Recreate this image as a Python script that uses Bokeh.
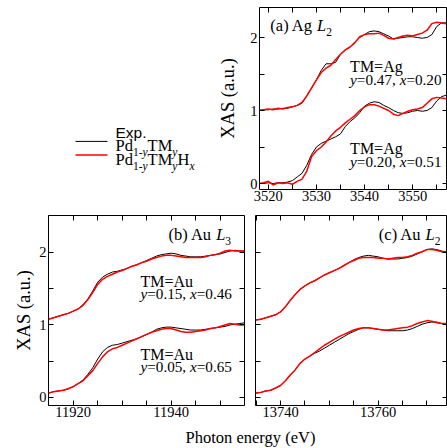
from bokeh.plotting import figure
from bokeh.models import Range1d, FixedTicker, LinearAxis, Label
from bokeh.layouts import column, row
from bokeh.embed import file_html
from bokeh.resources import INLINE

# ---------------- data ----------------
A_E = list(range(3518, 3558))
A_UP_K = [1.00, 1.01, 1.01, 1.02, 1.02, 1.03, 1.03, 1.05, 1.07, 1.10,
          1.20, 1.31, 1.42, 1.55, 1.64, 1.64, 1.66, 1.77, 1.83, 1.87,
          1.94, 2.00, 2.04, 2.08, 2.09, 2.08, 2.05, 2.02, 1.98, 1.99,
          2.00, 2.01, 2.01, 2.00, 1.99, 2.00, 2.04, 2.15, 2.20, 2.20]
A_UP_R = [1.00, 1.01, 1.02, 1.01, 1.03, 1.02, 1.04, 1.05, 1.07, 1.11,
          1.20, 1.31, 1.42, 1.52, 1.58, 1.62, 1.70, 1.77, 1.83, 1.87,
          1.93, 2.01, 2.04, 2.05, 2.05, 2.06, 2.03, 1.99, 1.98, 2.00,
          2.02, 2.03, 2.02, 2.04, 2.06, 2.10, 2.19, 2.21, 2.20, 2.19]
A_LO_K = [0.00, 0.00, 0.01, 0.00, 0.01, 0.01, 0.02, 0.04, 0.09, 0.14,
          0.25, 0.40, 0.50, 0.55, 0.58, 0.61, 0.64, 0.68, 0.78, 0.85,
          0.90, 0.97, 1.06, 1.10, 1.12, 1.11, 1.07, 1.04, 1.00, 0.97,
          0.96, 0.97, 0.99, 1.00, 0.99, 1.00, 1.04, 1.13, 1.19, 1.21]
A_LO_R = [0.00, 0.01, 0.03, -0.02, 0.01, 0.00, 0.01, -0.01, 0.03, 0.06,
          0.17, 0.37, 0.45, 0.50, 0.57, 0.65, 0.72, 0.77, 0.83, 0.88,
          0.93, 1.00, 1.05, 1.08, 1.08, 1.06, 1.03, 1.00, 0.95, 0.93,
          0.96, 0.99, 1.01, 1.02, 1.04, 1.10, 1.16, 1.18, 1.17, 1.16]

B_E = list(range(11915, 11956))
B_UP_R = [1.08, 1.10, 1.12, 1.14, 1.16, 1.19, 1.22, 1.27, 1.35, 1.45,
          1.56, 1.63, 1.67, 1.70, 1.73, 1.75, 1.78, 1.81, 1.83, 1.86,
          1.88, 1.91, 1.93, 1.95, 1.96, 1.96, 1.95, 1.94, 1.93, 1.93,
          1.93, 1.93, 1.94, 1.96, 1.97, 1.99, 2.02, 2.03, 2.02, 2.02,
          2.02]
B_UP_K = [1.08, 1.10, 1.12, 1.14, 1.16, 1.19, 1.22, 1.28, 1.36, 1.47,
          1.59, 1.66, 1.70, 1.73, 1.74, 1.76, 1.78, 1.81, 1.83, 1.86,
          1.89, 1.92, 1.95, 1.97, 1.98, 1.99, 1.98, 1.96, 1.95, 1.94,
          1.94, 1.94, 1.95, 1.96, 1.97, 1.98, 2.00, 2.02, 2.03, 2.02,
          2.02]
B_LO_R = [0.06, 0.08, 0.09, 0.10, 0.12, 0.15, 0.19, 0.23, 0.30, 0.37,
          0.47, 0.56, 0.63, 0.67, 0.69, 0.72, 0.75, 0.78, 0.81, 0.84,
          0.87, 0.90, 0.92, 0.94, 0.95, 0.95, 0.93, 0.91, 0.90, 0.90,
          0.91, 0.92, 0.93, 0.95, 0.96, 0.98, 1.00, 1.02, 1.01, 1.00,
          1.00]
B_LO_K = [0.06, 0.08, 0.09, 0.10, 0.12, 0.15, 0.19, 0.24, 0.32, 0.41,
          0.53, 0.63, 0.69, 0.72, 0.73, 0.75, 0.77, 0.79, 0.81, 0.84,
          0.87, 0.90, 0.94, 0.96, 0.97, 0.97, 0.96, 0.95, 0.94, 0.93,
          0.93, 0.93, 0.94, 0.95, 0.96, 0.97, 0.98, 1.00, 1.01, 1.02,
          1.03]

C_E = list(range(13735, 13775))
C_UP_R = [1.07, 1.08, 1.10, 1.12, 1.14, 1.18, 1.25, 1.34, 1.42, 1.49,
          1.54, 1.58, 1.61, 1.65, 1.69, 1.72, 1.75, 1.78, 1.82, 1.86,
          1.89, 1.92, 1.93, 1.93, 1.93, 1.92, 1.92, 1.91, 1.92, 1.93,
          1.93, 1.94, 1.96, 1.99, 2.01, 2.04, 2.04, 2.03, 2.01, 2.00]
C_UP_K = [1.07, 1.08, 1.10, 1.12, 1.14, 1.18, 1.25, 1.34, 1.42, 1.49,
          1.54, 1.58, 1.61, 1.65, 1.69, 1.72, 1.75, 1.78, 1.82, 1.86,
          1.90, 1.93, 1.95, 1.96, 1.95, 1.94, 1.92, 1.91, 1.91, 1.91,
          1.92, 1.93, 1.95, 1.98, 2.01, 2.04, 2.05, 2.04, 2.02, 2.01]
C_LO_R = [0.06, 0.07, 0.09, 0.10, 0.13, 0.165, 0.23, 0.31, 0.38, 0.47,
          0.53, 0.57, 0.62, 0.67, 0.72, 0.76, 0.80, 0.84, 0.87, 0.90,
          0.93, 0.95, 0.96, 0.96, 0.95, 0.94, 0.93, 0.93, 0.94, 0.95,
          0.96, 0.97, 0.99, 1.02, 1.04, 1.06, 1.05, 1.03, 1.02, 1.02]
C_LO_K = [0.06, 0.07, 0.09, 0.10, 0.13, 0.165, 0.23, 0.31, 0.38, 0.47,
          0.53, 0.57, 0.61, 0.64, 0.68, 0.72, 0.76, 0.80, 0.84, 0.88,
          0.91, 0.94, 0.96, 0.96, 0.95, 0.94, 0.93, 0.92, 0.92, 0.92,
          0.92, 0.93, 0.95, 0.98, 1.01, 1.03, 1.04, 1.04, 1.02, 1.02]

A_XTICKS = [3520, 3525, 3530, 3535, 3540, 3545, 3550, 3555]
A_XLABELS = ["3520", "", "3530", "", "3540", "", "3550", ""]
B_XTICKS = [11915, 11920, 11925, 11930, 11935, 11940, 11945, 11950, 11955]
B_XLABELS = ["", "11920", "", "", "", "11940", "", "", ""]
C_XTICKS = [13735, 13740, 13745, 13750, 13755, 13760, 13765, 13770]
C_XLABELS = ["", "13740", "", "", "", "13760", "", ""]
Y_TICKS = [0, 0.5, 1, 1.5, 2]
Y_LABELS = ["0", "", "1", "", "2"]

SERIF = "Liberation Serif"
SANS = "Liberation Sans"
RED = "#ff0000"

# approximate Times advance widths (em) for run placement
W_R = {'P': .556, 'd': .5, '-': .333, 'T': .611, 'M': .889, 'H': .722, '=': .564,
       'A': .722, 'g': .5, 'u': .5, '(': .333, ')': .333, 'a': .444, 'b': .5,
       'c': .444, ' ': .25, '.': .25, ',': .25, 'L': .611}
W_I = {'y': .444, 'x': .444, 'L': .556}
MID = 0.34  # em-box centre above the baseline


def tw(text, italic, size):
    tab = W_I if italic else W_R
    return sum(tab.get(ch, 0.5) for ch in text) * size


def rich(p, x, y, runs, size=16.5, sub=11.5, drop=4, font=SERIF):
    """Place text runs so that the main baseline sits at (x, y)."""
    off = 0.0
    for text, kind in runs:
        is_sub = kind.startswith("s")
        ital = kind.endswith("i")
        fs = sub if is_sub else size
        yo = MID * fs - (drop if is_sub else 0)
        p.add_layout(Label(x=x, y=y, x_offset=off, y_offset=yo,
                           text=text, text_font=font, text_font_size=f"{fs}px",
                           text_font_style="italic" if ital else "normal",
                           text_color="black", text_baseline="middle",
                           text_align="left"))
        off += tw(text, ital, fs)


def style_axis(ax, ticks, labels, show):
    ax.ticker = FixedTicker(ticks=ticks)
    ax.minor_tick_line_color = None
    ax.major_tick_in = 5
    ax.major_tick_out = 0
    ax.major_tick_line_color = "black"
    ax.major_tick_line_width = 1
    ax.axis_line_color = None
    if show:
        ax.major_label_overrides = {t: l for t, l in zip(ticks, labels)}
        ax.major_label_text_font = SERIF
        ax.major_label_text_font_size = "14.5px"
        ax.major_label_text_color = "black"
    else:
        ax.major_label_overrides = {t: "" for t in ticks}
        ax.major_label_text_font_size = "0px"
        ax.major_label_standoff = 0


def panel(width, height, xr, yr, bl, br, bt, bb, xt, xl, ylab, show_y, ystand):
    p = figure(width=width, height=height, x_range=Range1d(*xr), y_range=Range1d(*yr),
               output_backend="svg", toolbar_location=None,
               min_border_left=bl, min_border_right=br,
               min_border_top=bt, min_border_bottom=bb)
    p.grid.visible = False
    p.outline_line_color = "black"
    p.outline_line_width = 1
    p.outline_line_alpha = 1
    p.background_fill_color = "white"
    p.border_fill_color = "white"
    top = LinearAxis()
    right = LinearAxis()
    p.add_layout(top, "above")
    p.add_layout(right, "right")
    bx = p.below[0]
    ly = p.left[0]
    style_axis(bx, xt, xl, True)
    bx.major_label_standoff = 1
    style_axis(top, xt, xl, False)
    style_axis(ly, Y_TICKS, Y_LABELS, show_y)
    if show_y:
        ly.major_label_standoff = 2
    style_axis(right, Y_TICKS, Y_LABELS, False)
    if ylab:
        ly.axis_label = ylab
        ly.axis_label_text_font = SERIF
        ly.axis_label_text_font_size = "18.5px"
        ly.axis_label_text_font_style = "normal"
        ly.axis_label_text_color = "black"
        ly.axis_label_standoff = ystand
    return p


TM_SIZE = 16
VAL_SIZE = 15.2

# ---------------- panel (a) ----------------
pa = panel(232, 213, (3518.16, 3557.25), (-0.082, 2.411), 41, 0, 7, 24,
           A_XTICKS, A_XLABELS, "XAS (a.u.)", True, 9)
pa.line(A_E, A_UP_K, line_color="black", line_width=1)
pa.line(A_E, A_LO_K, line_color="black", line_width=1)
pa.line(A_E, A_UP_R, line_color=RED, line_width=1.5)
pa.line(A_E, A_LO_R, line_color=RED, line_width=1.5)
rich(pa, 3520.41, 2.082, [("(a) Ag ", "r"), ("L", "i"), ("2", "sr")])
rich(pa, 3537.0, 1.525, [("TM=Ag", "r")], size=TM_SIZE)
rich(pa, 3537.0, 1.35, [("y", "i"), ("=0.47, ", "r"), ("x", "i"), ("=0.20", "r")], size=VAL_SIZE)
rich(pa, 3537.0, 0.41, [("TM=Ag", "r")], size=TM_SIZE)
rich(pa, 3537.0, 0.235, [("y", "i"), ("=0.20, ", "r"), ("x", "i"), ("=0.51", "r")], size=VAL_SIZE)

# ---------------- legend area ----------------
pl = figure(width=215, height=213, x_range=Range1d(0, 215), y_range=Range1d(0, 213),
            output_backend="svg", toolbar_location=None, x_axis_type=None, y_axis_type=None,
            min_border_left=0, min_border_right=0, min_border_top=0, min_border_bottom=0)
pl.grid.visible = False
pl.outline_line_color = None
rich(pl, 115, 60.5, [("Exp.", "r")], size=15.5, font=SANS)
pl.segment(x0=[75], y0=[56.3], x1=[107], y1=[56.3], line_color="black", line_width=1)
pl.segment(x0=[75], y0=[40.3], x1=[107], y1=[40.3], line_color=RED, line_width=1.5)
rich(pl, 115, 44.5, [("Pd", "r"), ("1-", "sr"), ("y", "si"), ("TM", "r"), ("y", "si")])
rich(pl, 115, 28, [("Pd", "r"), ("1-", "sr"), ("y", "si"), ("TM", "r"), ("y", "si"),
                   ("H", "r"), ("x", "si")])

# ---------------- panel (b) ----------------
pb = panel(248, 210, (11914.96, 11954.96), (-0.111, 2.510), 48, 4, 2, 18,
           B_XTICKS, B_XLABELS, "XAS (a.u.)", True, 2)
pb.line(B_E, B_UP_K, line_color="black", line_width=1)
pb.line(B_E, B_LO_K, line_color="black", line_width=1)
pb.line(B_E, B_UP_R, line_color=RED, line_width=1.5)
pb.line(B_E, B_LO_R, line_color=RED, line_width=1.5)
rich(pb, 11939.45, 2.166, [("(b) Au ", "r"), ("L", "i"), ("3", "sr")])
rich(pb, 11933.73, 1.531, [("TM=Au", "r")], size=TM_SIZE)
rich(pb, 11933.73, 1.359, [("y", "i"), ("=0.15, ", "r"), ("x", "i"), ("=0.46", "r")], size=VAL_SIZE)
rich(pb, 11933.73, 0.52, [("TM=Au", "r")], size=TM_SIZE)
rich(pb, 11933.73, 0.352, [("y", "i"), ("=0.05, ", "r"), ("x", "i"), ("=0.65", "r")], size=VAL_SIZE)

# ---------------- panel (c) ----------------
pc = panel(199, 210, (13734.88, 13774.2), (-0.111, 2.510), 7, 0, 2, 18,
           C_XTICKS, C_XLABELS, None, False, 0)
pc.line(C_E, C_UP_K, line_color="black", line_width=1)
pc.line(C_E, C_LO_K, line_color="black", line_width=1)
pc.line(C_E, C_UP_R, line_color=RED, line_width=1.5)
pc.line(C_E, C_LO_R, line_color=RED, line_width=1.5)
rich(pc, 13760.14, 2.166, [("(c) Au ", "r"), ("L", "i"), ("2", "sr")])

# ---------------- x label row ----------------
px = figure(width=447, height=25, x_range=Range1d(0, 447), y_range=Range1d(0, 25),
            output_backend="svg", toolbar_location=None, x_axis_type=None, y_axis_type=None,
            min_border_left=0, min_border_right=0, min_border_top=0, min_border_bottom=0)
px.grid.visible = False
px.outline_line_color = None
px.add_layout(Label(x=250, y=11, text="Photon energy (eV)", text_font=SERIF,
                    text_font_size="16.5px", text_color="black", text_align="center",
                    text_baseline="middle"))

layout = column(row(pl, pa), row(pb, pc), px)
open("out.html", "w").write(file_html(layout, INLINE))
